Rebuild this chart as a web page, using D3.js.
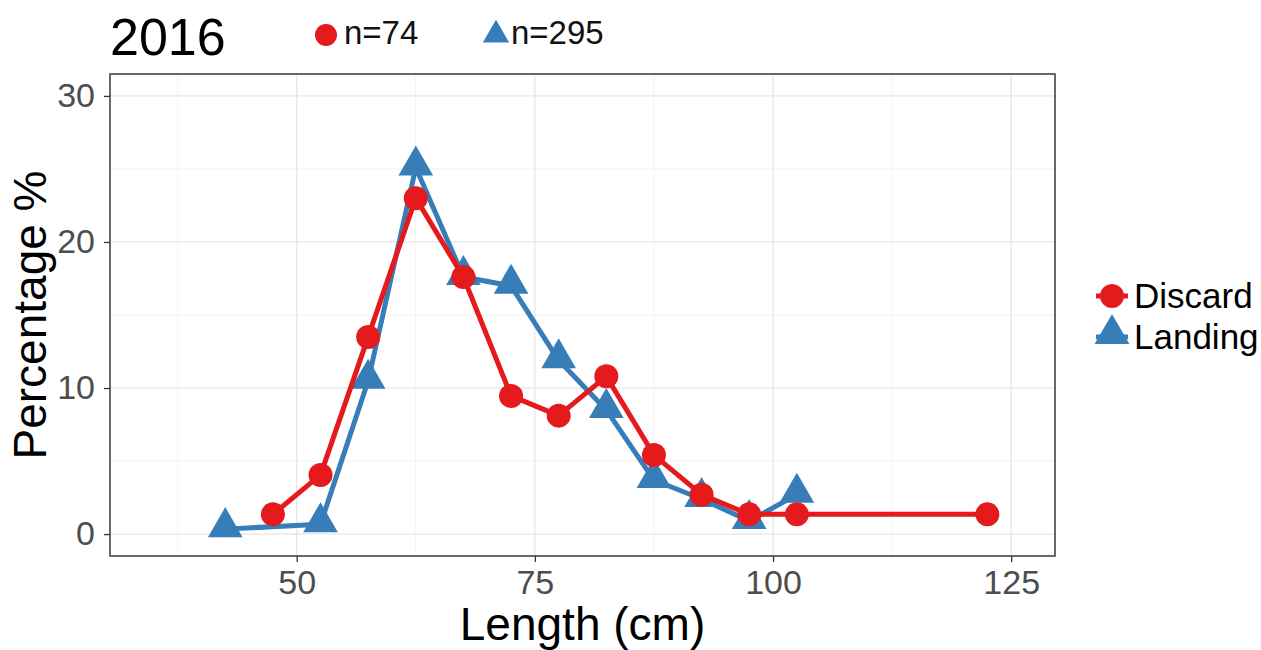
<!DOCTYPE html>
<html><head><meta charset="utf-8">
<script src="https://cdn.jsdelivr.net/npm/d3@7"></script>
<style>body{margin:0;background:#fff;} svg{display:block;font-family:Arial,"Liberation Sans",sans-serif;}</style>
</head><body><svg id="c" width="1261" height="650"></svg>
<script>
const discardLength = [47.5, 52.5, 57.5, 62.5, 67.5, 72.5, 77.5, 82.5, 87.5, 92.5, 97.5, 102.5, 122.5];
const discardPct    = [1.35, 4.05, 13.5, 23.0, 17.6, 9.46, 8.11, 10.8, 5.41, 2.70, 1.35, 1.35, 1.35];
const landingLength = [42.5, 52.5, 57.5, 62.5, 67.5, 72.5, 77.5, 82.5, 87.5, 92.5, 97.5, 102.5];
const landingPct    = [0.34, 0.68, 10.5, 25.1, 17.6, 17.0, 11.9, 8.5, 3.7, 2.4, 0.9, 2.7];
const xTicks = [50, 75, 100, 125];
const yTicks = [0, 10, 20, 30];
const seriesNames = ["Discard", "Landing"];
const nLabels = ["n=74", "n=295"];
const title = "2016";

const red = "#e41a1c", blue = "#377eb8";
const svg = d3.select("#c");
const L = 110, R = 1055, T = 74, B = 556;
const x = d3.scaleLinear().domain([30.4, 129.6]).range([L, R]);
const y = d3.scaleLinear().domain([-1.5, 31.5]).range([B, T]);

// grid
const g = svg.append("g");
const minorX = [37.5, 62.5, 87.5, 112.5], minorY = [5, 15, 25];
g.selectAll(".mx").data(minorX).enter().append("line")
  .attr("x1", d => x(d)).attr("x2", d => x(d)).attr("y1", T).attr("y2", B)
  .attr("stroke", "#f2f2f2").attr("stroke-width", 1);
g.selectAll(".my").data(minorY).enter().append("line")
  .attr("y1", d => y(d)).attr("y2", d => y(d)).attr("x1", L).attr("x2", R)
  .attr("stroke", "#f2f2f2").attr("stroke-width", 1);
g.selectAll(".Mx").data(xTicks).enter().append("line")
  .attr("x1", d => x(d)).attr("x2", d => x(d)).attr("y1", T).attr("y2", B)
  .attr("stroke", "#e6e6e6").attr("stroke-width", 1.3);
g.selectAll(".My").data(yTicks).enter().append("line")
  .attr("y1", d => y(d)).attr("y2", d => y(d)).attr("x1", L).attr("x2", R)
  .attr("stroke", "#e6e6e6").attr("stroke-width", 1.3);

// axes
const xa = svg.append("g").attr("transform", `translate(0,${B})`)
  .call(d3.axisBottom(x).tickValues(xTicks).tickSize(6).tickPadding(8).tickFormat(d3.format("d")));
const ya = svg.append("g").attr("transform", `translate(${L},0)`)
  .call(d3.axisLeft(y).tickValues(yTicks).tickSize(6).tickPadding(9).tickFormat(d3.format("d")));
[xa, ya].forEach(a => {
  a.select(".domain").remove();
  a.selectAll(".tick line").attr("stroke", "#333").attr("stroke-width", 1.3);
  a.selectAll(".tick text").attr("fill", "#4d4d4d").style("font-size", "34px")
    .style("font-family", "Arial, 'Liberation Sans', sans-serif");
});

// panel border
svg.append("rect").attr("x", L).attr("y", T).attr("width", R - L).attr("height", B - T)
  .attr("fill", "none").attr("stroke", "#444").attr("stroke-width", 1.6);

// series
const line = d3.line().x(d => x(d[0])).y(d => y(d[1]));
const landing = landingLength.map((v, i) => [v, landingPct[i]]);
const discard = discardLength.map((v, i) => [v, discardPct[i]]);
const tri = d3.symbol().type(d3.symbolTriangle).size(520);

svg.append("path").datum(landing).attr("d", line).attr("fill", "none")
  .attr("stroke", blue).attr("stroke-width", 5).attr("stroke-linejoin", "round");
svg.selectAll(".tri").data(landing).enter().append("path")
  .attr("d", tri).attr("transform", d => `translate(${x(d[0])},${y(d[1]) - 2})`).attr("fill", blue);

svg.append("path").datum(discard).attr("d", line).attr("fill", "none")
  .attr("stroke", red).attr("stroke-width", 5).attr("stroke-linejoin", "round");
svg.selectAll(".cir").data(discard).enter().append("circle")
  .attr("cx", d => x(d[0])).attr("cy", d => y(d[1])).attr("r", 12).attr("fill", red);

// title
svg.append("text").attr("x", 110).attr("y", 55).text(title)
  .style("font-size", "52px").attr("fill", "#000");

// top legend
svg.append("circle").attr("cx", 326).attr("cy", 35).attr("r", 11).attr("fill", red);
svg.append("text").attr("x", 344).attr("y", 44).text(nLabels[0]).style("font-size", "33px").attr("fill", "#111");
svg.append("path").attr("d", d3.symbol().type(d3.symbolTriangle).size(300))
  .attr("transform", "translate(496,35)").attr("fill", blue);
svg.append("text").attr("x", 511).attr("y", 44).text(nLabels[1]).style("font-size", "33px").attr("fill", "#111");

// right legend
const lg = svg.append("g");
seriesNames.forEach((name, i) => {
  const cy = 296 + i * 41;
  const col = i === 0 ? red : blue;
  lg.append("line").attr("x1", 1096).attr("x2", 1128).attr("y1", cy).attr("y2", cy)
    .attr("stroke", col).attr("stroke-width", 5);
  if (i === 0) lg.append("circle").attr("cx", 1112).attr("cy", cy).attr("r", 12).attr("fill", red);
  else lg.append("path").attr("d", d3.symbol().type(d3.symbolTriangle).size(520))
    .attr("transform", `translate(1112,${cy - 3})`).attr("fill", blue);
  lg.append("text").attr("x", 1134).attr("y", cy + 12).text(name)
    .style("font-size", "35px").attr("fill", "#000");
});

// axis titles
svg.append("text").attr("x", (L + R) / 2).attr("y", 640).attr("text-anchor", "middle")
  .text("Length (cm)").style("font-size", "46px").attr("fill", "#000");
svg.append("text").attr("transform", `translate(46,${(T + B) / 2}) rotate(-90)`).attr("text-anchor", "middle")
  .text("Percentage %").style("font-size", "46px").attr("fill", "#000");
</script></body></html>
